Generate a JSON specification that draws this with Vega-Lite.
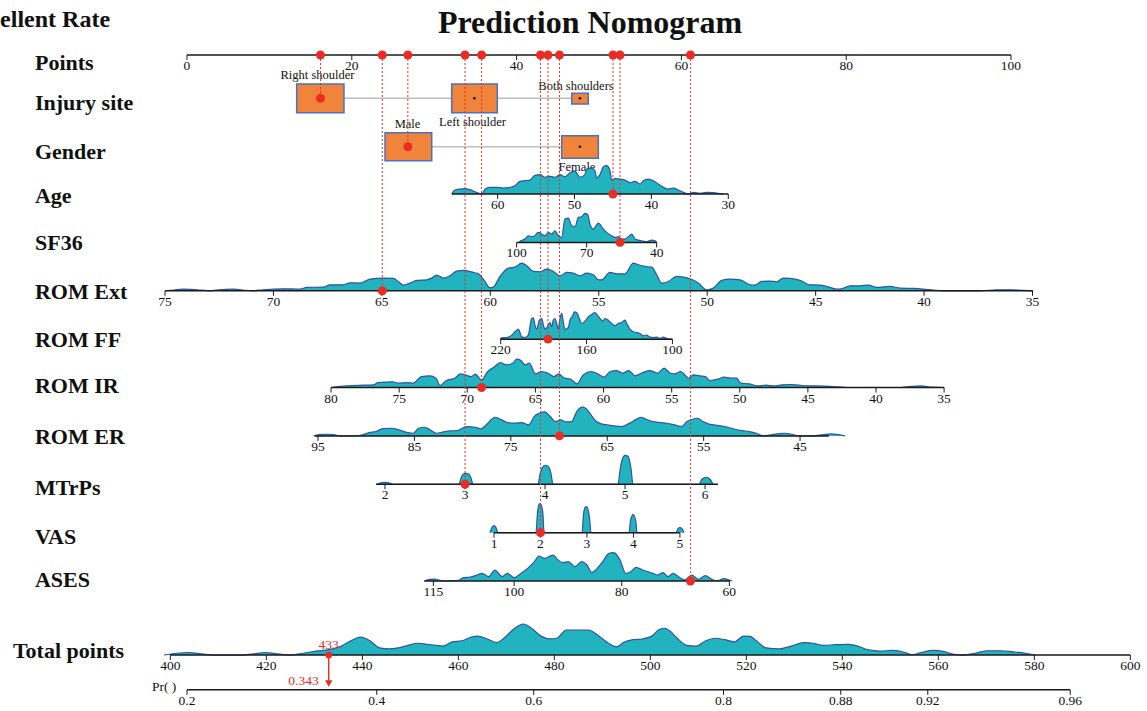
{
  "$schema": "https://vega.github.io/schema/vega-lite/v6.json",
  "width": 1147,
  "height": 711,
  "autosize": {"type": "none"},
  "padding": 0,
  "background": "white",
  "view": {"stroke": null},
  "config": {"font": "Liberation Serif", "text": {"font": "Liberation Serif"}},
  "datasets": {
    "rowlab": [
      {"t": "Points", "x": -18.45, "y": 0.291},
      {"t": "Injury site", "x": -18.45, "y": 1.118},
      {"t": "Gender", "x": -18.45, "y": 2.131},
      {"t": "Age", "x": -18.45, "y": 3.041},
      {"t": "SF36", "x": -18.45, "y": 4.013},
      {"t": "ROM Ext", "x": -18.45, "y": 5.025},
      {"t": "ROM FF", "x": -18.45, "y": 6.018},
      {"t": "ROM IR", "x": -18.45, "y": 6.969},
      {"t": "ROM ER", "x": -18.45, "y": 8.023},
      {"t": "MTrPs", "x": -18.45, "y": 9.077},
      {"t": "VAS", "x": -18.45, "y": 10.09},
      {"t": "ASES", "x": -18.45, "y": 10.979},
      {"t": "Total points", "x": -21.12, "y": 12.446}
    ],
    "axis": [
      {"v": "Points", "x": 0, "x2": 100, "y": 0.126},
      {"v": "Age", "x": 32.16, "x2": 65.69, "y": 3},
      {"v": "SF36", "x": 40.0, "x2": 57.0, "y": 4},
      {"v": "ROM Ext", "x": -2.67, "x2": 102.61, "y": 5},
      {"v": "ROM FF", "x": 38.07, "x2": 58.91, "y": 6},
      {"v": "ROM IR", "x": 17.48, "x2": 91.88, "y": 7},
      {"v": "ROM ER", "x": 15.5, "x2": 77.9, "y": 8},
      {"v": "MTrPs", "x": 22.94, "x2": 64.44, "y": 9},
      {"v": "VAS", "x": 37.26, "x2": 59.82, "y": 10},
      {"v": "ASES", "x": 28.8, "x2": 65.9, "y": 11},
      {"v": "Total points", "x": -2.02, "x2": 114.48, "y": 12.53},
      {"v": "Pr", "x": 0, "x2": 107.19, "y": 13.25}
    ],
    "tick": [
      {"t": "0", "x": 0, "y": 0.126}, {"t": "20", "x": 20, "y": 0.126}, {"t": "40", "x": 40, "y": 0.126},
      {"t": "60", "x": 60, "y": 0.126}, {"t": "80", "x": 80, "y": 0.126}, {"t": "100", "x": 100, "y": 0.126},
      {"t": "60", "x": 37.7, "y": 3}, {"t": "50", "x": 47.03, "y": 3}, {"t": "40", "x": 56.36, "y": 3}, {"t": "30", "x": 65.69, "y": 3},
      {"t": "100", "x": 40.0, "y": 4}, {"t": "70", "x": 48.5, "y": 4}, {"t": "40", "x": 57.0, "y": 4},
      {"t": "75", "x": -2.67, "y": 5}, {"t": "70", "x": 10.49, "y": 5}, {"t": "65", "x": 23.65, "y": 5}, {"t": "60", "x": 36.81, "y": 5},
      {"t": "55", "x": 49.97, "y": 5}, {"t": "50", "x": 63.13, "y": 5}, {"t": "45", "x": 76.29, "y": 5}, {"t": "40", "x": 89.45, "y": 5}, {"t": "35", "x": 102.61, "y": 5},
      {"t": "220", "x": 38.07, "y": 6}, {"t": "160", "x": 48.49, "y": 6}, {"t": "100", "x": 58.91, "y": 6},
      {"t": "80", "x": 17.48, "y": 7}, {"t": "75", "x": 25.75, "y": 7}, {"t": "70", "x": 34.01, "y": 7}, {"t": "65", "x": 42.28, "y": 7},
      {"t": "60", "x": 50.55, "y": 7}, {"t": "55", "x": 58.82, "y": 7}, {"t": "50", "x": 67.08, "y": 7}, {"t": "45", "x": 75.35, "y": 7},
      {"t": "40", "x": 83.62, "y": 7}, {"t": "35", "x": 91.88, "y": 7},
      {"t": "95", "x": 15.9, "y": 8}, {"t": "85", "x": 27.6, "y": 8}, {"t": "75", "x": 39.3, "y": 8}, {"t": "65", "x": 51.0, "y": 8},
      {"t": "55", "x": 62.7, "y": 8}, {"t": "45", "x": 74.4, "y": 8},
      {"t": "2", "x": 24.03, "y": 9}, {"t": "3", "x": 33.74, "y": 9}, {"t": "4", "x": 43.45, "y": 9}, {"t": "5", "x": 53.16, "y": 9}, {"t": "6", "x": 62.87, "y": 9},
      {"t": "1", "x": 37.26, "y": 10}, {"t": "2", "x": 42.9, "y": 10}, {"t": "3", "x": 48.54, "y": 10}, {"t": "4", "x": 54.18, "y": 10}, {"t": "5", "x": 59.82, "y": 10},
      {"t": "115", "x": 29.9, "y": 11}, {"t": "100", "x": 39.7, "y": 11}, {"t": "80", "x": 52.76, "y": 11}, {"t": "60", "x": 65.82, "y": 11},
      {"t": "400", "x": -2.02, "y": 12.53}, {"t": "420", "x": 9.63, "y": 12.53}, {"t": "440", "x": 21.28, "y": 12.53}, {"t": "460", "x": 32.93, "y": 12.53},
      {"t": "480", "x": 44.58, "y": 12.53}, {"t": "500", "x": 56.23, "y": 12.53}, {"t": "520", "x": 67.88, "y": 12.53}, {"t": "540", "x": 79.53, "y": 12.53},
      {"t": "560", "x": 91.18, "y": 12.53}, {"t": "580", "x": 102.83, "y": 12.53}, {"t": "600", "x": 114.48, "y": 12.53},
      {"t": "0.2", "x": 0, "y": 13.25}, {"t": "0.4", "x": 23.03, "y": 13.25}, {"t": "0.6", "x": 42.08, "y": 13.25}, {"t": "0.8", "x": 65.11, "y": 13.25},
      {"t": "0.88", "x": 79.34, "y": 13.25}, {"t": "0.92", "x": 89.9, "y": 13.25}, {"t": "0.96", "x": 107.19, "y": 13.25}
    ],
    "pick": [
      {"v": "Injury site", "x": 16.2, "y": 0.126, "y2": 1.021},
      {"v": "ROM Ext", "x": 23.7, "y": 0.126, "y2": 5},
      {"v": "Gender", "x": 26.8, "y": 0.126, "y2": 2.022},
      {"v": "MTrPs", "x": 33.74, "y": 0.126, "y2": 9},
      {"v": "ROM IR", "x": 35.75, "y": 0.126, "y2": 7},
      {"v": "VAS", "x": 42.9, "y": 0.126, "y2": 10},
      {"v": "ROM FF", "x": 43.81, "y": 0.126, "y2": 6},
      {"v": "ROM ER", "x": 45.2, "y": 0.126, "y2": 8},
      {"v": "Age", "x": 51.7, "y": 0.126, "y2": 3},
      {"v": "SF36", "x": 52.55, "y": 0.126, "y2": 4},
      {"v": "ASES", "x": 61.1, "y": 0.126, "y2": 11}
    ],
    "hit": [
      {"x": 16.2, "y": 1.021}, {"x": 23.7, "y": 5}, {"x": 26.8, "y": 2.022}, {"x": 33.74, "y": 9},
      {"x": 35.75, "y": 7}, {"x": 42.9, "y": 10}, {"x": 43.81, "y": 6}, {"x": 45.2, "y": 8},
      {"x": 51.7, "y": 3}, {"x": 52.55, "y": 4}, {"x": 61.1, "y": 11}
    ],
    "box": [
      {"t": "Right shoulder", "x": 13.31, "x2": 19.05, "y": 0.726, "y2": 1.319},
      {"t": "Left shoulder", "x": 32.12, "x2": 37.66, "y": 0.726, "y2": 1.319},
      {"t": "Both shoulders", "x": 46.69, "x2": 48.7, "y": 0.918, "y2": 1.139},
      {"t": "Male", "x": 24.03, "x2": 29.7, "y": 1.732, "y2": 2.311},
      {"t": "Female", "x": 45.47, "x2": 49.92, "y": 1.794, "y2": 2.262}
    ],
    "conn": [
      {"v": "Injury site", "x": 19.05, "x2": 46.69, "y": 1.021},
      {"v": "Gender", "x": 29.7, "x2": 45.47, "y": 2.022}
    ],
    "mid": [
      {"x": 34.87, "y": 1.021}, {"x": 47.69, "y": 1.021}, {"x": 47.69, "y": 2.022}
    ],
    "boxlab": [
      {"t": "Right shoulder", "x": 15.84, "y": 0.54},
      {"t": "Both shoulders", "x": 47.21, "y": 0.761},
      {"t": "Left shoulder", "x": 34.65, "y": 1.505},
      {"t": "Male", "x": 26.76, "y": 1.552},
      {"t": "Female", "x": 47.33, "y": 2.435}
    ],
    "dens": [
      {"v":"Age","x":32.12,"y":3,"y2":3},{"v":"Age","x":32.52,"y":2.917,"y2":3},{"v":"Age","x":33.13,"y":2.897,"y2":3},{"v":"Age","x":33.74,"y":2.89,"y2":3},{"v":"Age","x":34.34,"y":2.91,"y2":3},{"v":"Age","x":35.16,"y":2.966,"y2":3},{"v":"Age","x":35.76,"y":3,"y2":3},{"v":"Age","x":36.17,"y":2.897,"y2":3},{"v":"Age","x":36.77,"y":2.862,"y2":3},{"v":"Age","x":37.58,"y":2.862,"y2":3},{"v":"Age","x":38.39,"y":2.876,"y2":3},{"v":"Age","x":39.2,"y":2.862,"y2":3},{"v":"Age","x":39.81,"y":2.828,"y2":3},{"v":"Age","x":40.41,"y":2.738,"y2":3},{"v":"Age","x":41.02,"y":2.724,"y2":3},{"v":"Age","x":41.63,"y":2.711,"y2":3},{"v":"Age","x":42.23,"y":2.614,"y2":3},{"v":"Age","x":42.84,"y":2.6,"y2":3},{"v":"Age","x":43.45,"y":2.655,"y2":3},{"v":"Age","x":43.85,"y":2.628,"y2":3},{"v":"Age","x":44.66,"y":2.655,"y2":3},{"v":"Age","x":45.27,"y":2.6,"y2":3},{"v":"Age","x":45.87,"y":2.642,"y2":3},{"v":"Age","x":46.48,"y":2.559,"y2":3},{"v":"Age","x":47.09,"y":2.531,"y2":3},{"v":"Age","x":47.69,"y":2.655,"y2":3},{"v":"Age","x":48.3,"y":2.6,"y2":3},{"v":"Age","x":48.5,"y":2.483,"y2":3},{"v":"Age","x":49.11,"y":2.463,"y2":3},{"v":"Age","x":49.51,"y":2.518,"y2":3},{"v":"Age","x":49.72,"y":2.669,"y2":3},{"v":"Age","x":50.12,"y":2.6,"y2":3},{"v":"Age","x":50.53,"y":2.435,"y2":3},{"v":"Age","x":50.93,"y":2.414,"y2":3},{"v":"Age","x":51.33,"y":2.518,"y2":3},{"v":"Age","x":51.54,"y":2.711,"y2":3},{"v":"Age","x":51.94,"y":2.683,"y2":3},{"v":"Age","x":52.55,"y":2.69,"y2":3},{"v":"Age","x":53.16,"y":2.711,"y2":3},{"v":"Age","x":53.76,"y":2.766,"y2":3},{"v":"Age","x":54.37,"y":2.738,"y2":3},{"v":"Age","x":54.98,"y":2.793,"y2":3},{"v":"Age","x":55.38,"y":2.724,"y2":3},{"v":"Age","x":55.98,"y":2.69,"y2":3},{"v":"Age","x":56.59,"y":2.724,"y2":3},{"v":"Age","x":57.2,"y":2.793,"y2":3},{"v":"Age","x":57.8,"y":2.862,"y2":3},{"v":"Age","x":58.41,"y":2.897,"y2":3},{"v":"Age","x":59.02,"y":2.876,"y2":3},{"v":"Age","x":59.62,"y":2.917,"y2":3},{"v":"Age","x":60.23,"y":2.966,"y2":3},{"v":"Age","x":60.84,"y":3,"y2":3},{"v":"Age","x":61.44,"y":2.966,"y2":3},{"v":"Age","x":62.26,"y":2.986,"y2":3},{"v":"Age","x":63.07,"y":2.966,"y2":3},{"v":"Age","x":63.87,"y":2.972,"y2":3},{"v":"Age","x":64.48,"y":2.986,"y2":3},{"v":"Age","x":65.08,"y":3,"y2":3},
      {"v":"SF36","x":40.29,"y":4,"y2":4},{"v":"SF36","x":40.41,"y":3.979,"y2":4},{"v":"SF36","x":41.02,"y":3.931,"y2":4},{"v":"SF36","x":41.42,"y":3.862,"y2":4},{"v":"SF36","x":42.03,"y":3.883,"y2":4},{"v":"SF36","x":42.63,"y":3.793,"y2":4},{"v":"SF36","x":43.05,"y":3.828,"y2":4},{"v":"SF36","x":43.45,"y":3.862,"y2":4},{"v":"SF36","x":43.85,"y":3.793,"y2":4},{"v":"SF36","x":44.26,"y":3.828,"y2":4},{"v":"SF36","x":44.66,"y":3.759,"y2":4},{"v":"SF36","x":45.06,"y":3.862,"y2":4},{"v":"SF36","x":45.47,"y":3.897,"y2":4},{"v":"SF36","x":45.87,"y":3.518,"y2":4},{"v":"SF36","x":46.27,"y":3.497,"y2":4},{"v":"SF36","x":46.69,"y":3.655,"y2":4},{"v":"SF36","x":47.09,"y":3.676,"y2":4},{"v":"SF36","x":47.49,"y":3.483,"y2":4},{"v":"SF36","x":47.9,"y":3.469,"y2":4},{"v":"SF36","x":48.3,"y":3.401,"y2":4},{"v":"SF36","x":48.63,"y":3.428,"y2":4},{"v":"SF36","x":48.91,"y":3.621,"y2":4},{"v":"SF36","x":49.31,"y":3.724,"y2":4},{"v":"SF36","x":49.92,"y":3.6,"y2":4},{"v":"SF36","x":50.53,"y":3.724,"y2":4},{"v":"SF36","x":50.93,"y":3.793,"y2":4},{"v":"SF36","x":51.54,"y":3.862,"y2":4},{"v":"SF36","x":51.94,"y":3.897,"y2":4},{"v":"SF36","x":52.34,"y":3.883,"y2":4},{"v":"SF36","x":52.75,"y":3.931,"y2":4},{"v":"SF36","x":53.16,"y":3.931,"y2":4},{"v":"SF36","x":53.56,"y":3.883,"y2":4},{"v":"SF36","x":53.97,"y":3.828,"y2":4},{"v":"SF36","x":54.37,"y":3.931,"y2":4},{"v":"SF36","x":54.77,"y":3.952,"y2":4},{"v":"SF36","x":55.18,"y":3.966,"y2":4},{"v":"SF36","x":55.79,"y":3.986,"y2":4},{"v":"SF36","x":56.4,"y":3.952,"y2":4},{"v":"SF36","x":56.8,"y":3.966,"y2":4},{"v":"SF36","x":56.99,"y":4,"y2":4},
      {"v":"ROM Ext","x":-2.67,"y":5,"y2":5},{"v":"ROM Ext","x":-2.06,"y":4.993,"y2":5},{"v":"ROM Ext","x":-0.45,"y":4.966,"y2":5},{"v":"ROM Ext","x":1.18,"y":4.979,"y2":5},{"v":"ROM Ext","x":2.79,"y":5,"y2":5},{"v":"ROM Ext","x":3.6,"y":4.986,"y2":5},{"v":"ROM Ext","x":5.62,"y":4.966,"y2":5},{"v":"ROM Ext","x":7.25,"y":4.993,"y2":5},{"v":"ROM Ext","x":8.05,"y":5,"y2":5},{"v":"ROM Ext","x":9.26,"y":4.979,"y2":5},{"v":"ROM Ext","x":11.69,"y":4.959,"y2":5},{"v":"ROM Ext","x":13.71,"y":4.966,"y2":5},{"v":"ROM Ext","x":14.53,"y":4.931,"y2":5},{"v":"ROM Ext","x":16.54,"y":4.924,"y2":5},{"v":"ROM Ext","x":17.35,"y":4.876,"y2":5},{"v":"ROM Ext","x":18.97,"y":4.876,"y2":5},{"v":"ROM Ext","x":19.78,"y":4.835,"y2":5},{"v":"ROM Ext","x":21.0,"y":4.841,"y2":5},{"v":"ROM Ext","x":22.21,"y":4.759,"y2":5},{"v":"ROM Ext","x":23.82,"y":4.738,"y2":5},{"v":"ROM Ext","x":25.04,"y":4.745,"y2":5},{"v":"ROM Ext","x":25.64,"y":4.807,"y2":5},{"v":"ROM Ext","x":26.25,"y":4.883,"y2":5},{"v":"ROM Ext","x":27.06,"y":4.841,"y2":5},{"v":"ROM Ext","x":27.88,"y":4.786,"y2":5},{"v":"ROM Ext","x":29.09,"y":4.773,"y2":5},{"v":"ROM Ext","x":29.7,"y":4.738,"y2":5},{"v":"ROM Ext","x":30.3,"y":4.676,"y2":5},{"v":"ROM Ext","x":31.11,"y":4.738,"y2":5},{"v":"ROM Ext","x":31.92,"y":4.69,"y2":5},{"v":"ROM Ext","x":32.73,"y":4.593,"y2":5},{"v":"ROM Ext","x":33.53,"y":4.58,"y2":5},{"v":"ROM Ext","x":34.75,"y":4.621,"y2":5},{"v":"ROM Ext","x":35.35,"y":4.649,"y2":5},{"v":"ROM Ext","x":35.96,"y":4.759,"y2":5},{"v":"ROM Ext","x":36.77,"y":4.938,"y2":5},{"v":"ROM Ext","x":37.17,"y":4.924,"y2":5},{"v":"ROM Ext","x":37.99,"y":4.704,"y2":5},{"v":"ROM Ext","x":38.99,"y":4.531,"y2":5},{"v":"ROM Ext","x":39.81,"y":4.511,"y2":5},{"v":"ROM Ext","x":40.62,"y":4.428,"y2":5},{"v":"ROM Ext","x":41.23,"y":4.483,"y2":5},{"v":"ROM Ext","x":42.03,"y":4.6,"y2":5},{"v":"ROM Ext","x":42.84,"y":4.607,"y2":5},{"v":"ROM Ext","x":43.65,"y":4.552,"y2":5},{"v":"ROM Ext","x":44.45,"y":4.6,"y2":5},{"v":"ROM Ext","x":45.27,"y":4.69,"y2":5},{"v":"ROM Ext","x":46.08,"y":4.621,"y2":5},{"v":"ROM Ext","x":46.88,"y":4.635,"y2":5},{"v":"ROM Ext","x":47.69,"y":4.69,"y2":5},{"v":"ROM Ext","x":48.5,"y":4.635,"y2":5},{"v":"ROM Ext","x":49.31,"y":4.669,"y2":5},{"v":"ROM Ext","x":49.92,"y":4.773,"y2":5},{"v":"ROM Ext","x":50.33,"y":4.773,"y2":5},{"v":"ROM Ext","x":51.33,"y":4.621,"y2":5},{"v":"ROM Ext","x":52.15,"y":4.649,"y2":5},{"v":"ROM Ext","x":53.16,"y":4.649,"y2":5},{"v":"ROM Ext","x":54.16,"y":4.428,"y2":5},{"v":"ROM Ext","x":54.77,"y":4.463,"y2":5},{"v":"ROM Ext","x":55.58,"y":4.497,"y2":5},{"v":"ROM Ext","x":56.4,"y":4.511,"y2":5},{"v":"ROM Ext","x":57.0,"y":4.669,"y2":5},{"v":"ROM Ext","x":57.61,"y":4.841,"y2":5},{"v":"ROM Ext","x":58.41,"y":4.807,"y2":5},{"v":"ROM Ext","x":59.43,"y":4.704,"y2":5},{"v":"ROM Ext","x":60.23,"y":4.717,"y2":5},{"v":"ROM Ext","x":61.04,"y":4.752,"y2":5},{"v":"ROM Ext","x":62.05,"y":4.841,"y2":5},{"v":"ROM Ext","x":63.07,"y":4.979,"y2":5},{"v":"ROM Ext","x":63.87,"y":4.945,"y2":5},{"v":"ROM Ext","x":64.89,"y":4.786,"y2":5},{"v":"ROM Ext","x":65.9,"y":4.759,"y2":5},{"v":"ROM Ext","x":67.11,"y":4.773,"y2":5},{"v":"ROM Ext","x":68.33,"y":4.876,"y2":5},{"v":"ROM Ext","x":68.93,"y":4.883,"y2":5},{"v":"ROM Ext","x":69.74,"y":4.807,"y2":5},{"v":"ROM Ext","x":70.75,"y":4.8,"y2":5},{"v":"ROM Ext","x":71.56,"y":4.814,"y2":5},{"v":"ROM Ext","x":72.37,"y":4.738,"y2":5},{"v":"ROM Ext","x":73.18,"y":4.745,"y2":5},{"v":"ROM Ext","x":74.39,"y":4.786,"y2":5},{"v":"ROM Ext","x":75.61,"y":4.876,"y2":5},{"v":"ROM Ext","x":76.82,"y":4.883,"y2":5},{"v":"ROM Ext","x":77.63,"y":4.91,"y2":5},{"v":"ROM Ext","x":78.85,"y":4.966,"y2":5},{"v":"ROM Ext","x":79.45,"y":4.959,"y2":5},{"v":"ROM Ext","x":80.46,"y":4.897,"y2":5},{"v":"ROM Ext","x":81.67,"y":4.897,"y2":5},{"v":"ROM Ext","x":82.68,"y":4.883,"y2":5},{"v":"ROM Ext","x":83.7,"y":4.931,"y2":5},{"v":"ROM Ext","x":85.32,"y":4.91,"y2":5},{"v":"ROM Ext","x":86.53,"y":4.945,"y2":5},{"v":"ROM Ext","x":88.14,"y":4.952,"y2":5},{"v":"ROM Ext","x":89.36,"y":4.966,"y2":5},{"v":"ROM Ext","x":90.57,"y":4.986,"y2":5},{"v":"ROM Ext","x":91.79,"y":5,"y2":5},{"v":"ROM Ext","x":96.24,"y":5,"y2":5},{"v":"ROM Ext","x":98.26,"y":4.979,"y2":5},{"v":"ROM Ext","x":99.88,"y":4.979,"y2":5},{"v":"ROM Ext","x":101.49,"y":4.993,"y2":5},{"v":"ROM Ext","x":102.71,"y":5,"y2":5},
      {"v":"ROM FF","x":37.99,"y":6,"y2":6},{"v":"ROM FF","x":38.19,"y":5.972,"y2":6},{"v":"ROM FF","x":38.8,"y":5.966,"y2":6},{"v":"ROM FF","x":39.41,"y":5.917,"y2":6},{"v":"ROM FF","x":39.81,"y":5.848,"y2":6},{"v":"ROM FF","x":40.21,"y":5.793,"y2":6},{"v":"ROM FF","x":40.62,"y":5.952,"y2":6},{"v":"ROM FF","x":41.02,"y":5.966,"y2":6},{"v":"ROM FF","x":41.42,"y":5.917,"y2":6},{"v":"ROM FF","x":41.83,"y":5.573,"y2":6},{"v":"ROM FF","x":42.03,"y":5.559,"y2":6},{"v":"ROM FF","x":42.23,"y":5.711,"y2":6},{"v":"ROM FF","x":42.44,"y":5.793,"y2":6},{"v":"ROM FF","x":42.76,"y":5.607,"y2":6},{"v":"ROM FF","x":43.05,"y":5.573,"y2":6},{"v":"ROM FF","x":43.25,"y":5.711,"y2":6},{"v":"ROM FF","x":43.45,"y":5.793,"y2":6},{"v":"ROM FF","x":43.65,"y":5.766,"y2":6},{"v":"ROM FF","x":43.85,"y":5.711,"y2":6},{"v":"ROM FF","x":44.05,"y":5.655,"y2":6},{"v":"ROM FF","x":44.26,"y":5.745,"y2":6},{"v":"ROM FF","x":44.45,"y":5.607,"y2":6},{"v":"ROM FF","x":44.66,"y":5.573,"y2":6},{"v":"ROM FF","x":44.87,"y":5.676,"y2":6},{"v":"ROM FF","x":45.06,"y":5.793,"y2":6},{"v":"ROM FF","x":45.27,"y":5.573,"y2":6},{"v":"ROM FF","x":45.47,"y":5.469,"y2":6},{"v":"ROM FF","x":45.67,"y":5.642,"y2":6},{"v":"ROM FF","x":45.87,"y":5.814,"y2":6},{"v":"ROM FF","x":46.08,"y":5.779,"y2":6},{"v":"ROM FF","x":46.27,"y":5.766,"y2":6},{"v":"ROM FF","x":46.48,"y":5.607,"y2":6},{"v":"ROM FF","x":46.81,"y":5.518,"y2":6},{"v":"ROM FF","x":47.0,"y":5.435,"y2":6},{"v":"ROM FF","x":47.29,"y":5.449,"y2":6},{"v":"ROM FF","x":47.61,"y":5.573,"y2":6},{"v":"ROM FF","x":47.9,"y":5.676,"y2":6},{"v":"ROM FF","x":48.3,"y":5.628,"y2":6},{"v":"ROM FF","x":48.7,"y":5.538,"y2":6},{"v":"ROM FF","x":49.11,"y":5.49,"y2":6},{"v":"ROM FF","x":49.51,"y":5.449,"y2":6},{"v":"ROM FF","x":49.8,"y":5.504,"y2":6},{"v":"ROM FF","x":50.12,"y":5.573,"y2":6},{"v":"ROM FF","x":50.45,"y":5.628,"y2":6},{"v":"ROM FF","x":50.73,"y":5.573,"y2":6},{"v":"ROM FF","x":51.13,"y":5.607,"y2":6},{"v":"ROM FF","x":51.54,"y":5.676,"y2":6},{"v":"ROM FF","x":51.94,"y":5.724,"y2":6},{"v":"ROM FF","x":52.34,"y":5.676,"y2":6},{"v":"ROM FF","x":52.75,"y":5.655,"y2":6},{"v":"ROM FF","x":53.16,"y":5.607,"y2":6},{"v":"ROM FF","x":53.36,"y":5.676,"y2":6},{"v":"ROM FF","x":53.76,"y":5.793,"y2":6},{"v":"ROM FF","x":54.16,"y":5.848,"y2":6},{"v":"ROM FF","x":54.58,"y":5.862,"y2":6},{"v":"ROM FF","x":54.98,"y":5.883,"y2":6},{"v":"ROM FF","x":55.38,"y":5.931,"y2":6},{"v":"ROM FF","x":55.79,"y":5.917,"y2":6},{"v":"ROM FF","x":56.19,"y":5.959,"y2":6},{"v":"ROM FF","x":56.59,"y":5.966,"y2":6},{"v":"ROM FF","x":57.0,"y":5.959,"y2":6},{"v":"ROM FF","x":57.4,"y":5.986,"y2":6},{"v":"ROM FF","x":57.8,"y":5.959,"y2":6},{"v":"ROM FF","x":58.22,"y":5.986,"y2":6},{"v":"ROM FF","x":58.82,"y":6,"y2":6},
      {"v":"ROM IR","x":17.48,"y":7,"y2":7},{"v":"ROM IR","x":19.39,"y":6.966,"y2":7},{"v":"ROM IR","x":21.4,"y":6.952,"y2":7},{"v":"ROM IR","x":22.66,"y":6.945,"y2":7},{"v":"ROM IR","x":23.17,"y":6.897,"y2":7},{"v":"ROM IR","x":24.93,"y":6.883,"y2":7},{"v":"ROM IR","x":25.68,"y":6.91,"y2":7},{"v":"ROM IR","x":26.69,"y":6.897,"y2":7},{"v":"ROM IR","x":27.44,"y":6.91,"y2":7},{"v":"ROM IR","x":28.45,"y":6.773,"y2":7},{"v":"ROM IR","x":29.46,"y":6.759,"y2":7},{"v":"ROM IR","x":30.21,"y":6.807,"y2":7},{"v":"ROM IR","x":30.71,"y":6.959,"y2":7},{"v":"ROM IR","x":31.47,"y":6.855,"y2":7},{"v":"ROM IR","x":32.48,"y":6.807,"y2":7},{"v":"ROM IR","x":33.23,"y":6.718,"y2":7},{"v":"ROM IR","x":33.74,"y":6.738,"y2":7},{"v":"ROM IR","x":34.49,"y":6.773,"y2":7},{"v":"ROM IR","x":34.99,"y":6.724,"y2":7},{"v":"ROM IR","x":35.75,"y":6.842,"y2":7},{"v":"ROM IR","x":36.5,"y":6.669,"y2":7},{"v":"ROM IR","x":37.26,"y":6.58,"y2":7},{"v":"ROM IR","x":38.01,"y":6.483,"y2":7},{"v":"ROM IR","x":38.77,"y":6.531,"y2":7},{"v":"ROM IR","x":39.52,"y":6.497,"y2":7},{"v":"ROM IR","x":40.03,"y":6.414,"y2":7},{"v":"ROM IR","x":40.53,"y":6.442,"y2":7},{"v":"ROM IR","x":41.04,"y":6.531,"y2":7},{"v":"ROM IR","x":41.54,"y":6.497,"y2":7},{"v":"ROM IR","x":42.29,"y":6.718,"y2":7},{"v":"ROM IR","x":43.05,"y":6.669,"y2":7},{"v":"ROM IR","x":43.8,"y":6.704,"y2":7},{"v":"ROM IR","x":44.56,"y":6.773,"y2":7},{"v":"ROM IR","x":45.06,"y":6.718,"y2":7},{"v":"ROM IR","x":45.82,"y":6.807,"y2":7},{"v":"ROM IR","x":46.57,"y":6.828,"y2":7},{"v":"ROM IR","x":47.33,"y":6.924,"y2":7},{"v":"ROM IR","x":48.08,"y":6.738,"y2":7},{"v":"ROM IR","x":49.09,"y":6.669,"y2":7},{"v":"ROM IR","x":49.84,"y":6.718,"y2":7},{"v":"ROM IR","x":50.6,"y":6.786,"y2":7},{"v":"ROM IR","x":51.36,"y":6.669,"y2":7},{"v":"ROM IR","x":52.11,"y":6.649,"y2":7},{"v":"ROM IR","x":52.86,"y":6.704,"y2":7},{"v":"ROM IR","x":53.62,"y":6.649,"y2":7},{"v":"ROM IR","x":54.38,"y":6.759,"y2":7},{"v":"ROM IR","x":55.13,"y":6.704,"y2":7},{"v":"ROM IR","x":56.14,"y":6.649,"y2":7},{"v":"ROM IR","x":57.14,"y":6.704,"y2":7},{"v":"ROM IR","x":57.9,"y":6.6,"y2":7},{"v":"ROM IR","x":58.65,"y":6.704,"y2":7},{"v":"ROM IR","x":59.16,"y":6.718,"y2":7},{"v":"ROM IR","x":59.91,"y":6.669,"y2":7},{"v":"ROM IR","x":60.92,"y":6.807,"y2":7},{"v":"ROM IR","x":61.42,"y":6.738,"y2":7},{"v":"ROM IR","x":62.18,"y":6.759,"y2":7},{"v":"ROM IR","x":62.93,"y":6.773,"y2":7},{"v":"ROM IR","x":63.44,"y":6.855,"y2":7},{"v":"ROM IR","x":64.44,"y":6.828,"y2":7},{"v":"ROM IR","x":65.2,"y":6.786,"y2":7},{"v":"ROM IR","x":65.95,"y":6.807,"y2":7},{"v":"ROM IR","x":66.71,"y":6.807,"y2":7},{"v":"ROM IR","x":67.21,"y":6.91,"y2":7},{"v":"ROM IR","x":68.22,"y":6.924,"y2":7},{"v":"ROM IR","x":69.23,"y":6.966,"y2":7},{"v":"ROM IR","x":70.23,"y":6.952,"y2":7},{"v":"ROM IR","x":71.24,"y":6.966,"y2":7},{"v":"ROM IR","x":72.25,"y":6.945,"y2":7},{"v":"ROM IR","x":73.25,"y":6.938,"y2":7},{"v":"ROM IR","x":74.26,"y":6.952,"y2":7},{"v":"ROM IR","x":75.27,"y":6.966,"y2":7},{"v":"ROM IR","x":76.27,"y":6.966,"y2":7},{"v":"ROM IR","x":78.29,"y":6.979,"y2":7},{"v":"ROM IR","x":80.3,"y":7,"y2":7},{"v":"ROM IR","x":86.34,"y":7,"y2":7},{"v":"ROM IR","x":87.6,"y":6.979,"y2":7},{"v":"ROM IR","x":89.11,"y":6.966,"y2":7},{"v":"ROM IR","x":90.37,"y":6.993,"y2":7},{"v":"ROM IR","x":91.88,"y":7,"y2":7},
      {"v":"ROM ER","x":15.38,"y":8,"y2":8},{"v":"ROM ER","x":16.03,"y":7.972,"y2":8},{"v":"ROM ER","x":16.89,"y":7.966,"y2":8},{"v":"ROM ER","x":17.75,"y":7.972,"y2":8},{"v":"ROM ER","x":18.62,"y":8,"y2":8},{"v":"ROM ER","x":20.34,"y":8,"y2":8},{"v":"ROM ER","x":21.42,"y":7.972,"y2":8},{"v":"ROM ER","x":22.07,"y":7.931,"y2":8},{"v":"ROM ER","x":22.93,"y":7.91,"y2":8},{"v":"ROM ER","x":23.79,"y":7.848,"y2":8},{"v":"ROM ER","x":24.87,"y":7.842,"y2":8},{"v":"ROM ER","x":25.73,"y":7.876,"y2":8},{"v":"ROM ER","x":26.81,"y":7.931,"y2":8},{"v":"ROM ER","x":27.46,"y":7.945,"y2":8},{"v":"ROM ER","x":28.11,"y":7.842,"y2":8},{"v":"ROM ER","x":28.75,"y":7.821,"y2":8},{"v":"ROM ER","x":29.4,"y":7.862,"y2":8},{"v":"ROM ER","x":30.26,"y":7.945,"y2":8},{"v":"ROM ER","x":31.13,"y":7.917,"y2":8},{"v":"ROM ER","x":31.99,"y":7.897,"y2":8},{"v":"ROM ER","x":32.85,"y":7.89,"y2":8},{"v":"ROM ER","x":33.93,"y":7.807,"y2":8},{"v":"ROM ER","x":35.01,"y":7.821,"y2":8},{"v":"ROM ER","x":35.66,"y":7.855,"y2":8},{"v":"ROM ER","x":36.3,"y":7.773,"y2":8},{"v":"ROM ER","x":37.38,"y":7.614,"y2":8},{"v":"ROM ER","x":38.03,"y":7.656,"y2":8},{"v":"ROM ER","x":38.89,"y":7.724,"y2":8},{"v":"ROM ER","x":39.75,"y":7.738,"y2":8},{"v":"ROM ER","x":40.62,"y":7.724,"y2":8},{"v":"ROM ER","x":41.48,"y":7.773,"y2":8},{"v":"ROM ER","x":42.13,"y":7.6,"y2":8},{"v":"ROM ER","x":42.77,"y":7.531,"y2":8},{"v":"ROM ER","x":43.42,"y":7.504,"y2":8},{"v":"ROM ER","x":44.07,"y":7.6,"y2":8},{"v":"ROM ER","x":44.71,"y":7.704,"y2":8},{"v":"ROM ER","x":45.36,"y":7.669,"y2":8},{"v":"ROM ER","x":46.01,"y":7.711,"y2":8},{"v":"ROM ER","x":46.66,"y":7.704,"y2":8},{"v":"ROM ER","x":47.3,"y":7.497,"y2":8},{"v":"ROM ER","x":47.95,"y":7.407,"y2":8},{"v":"ROM ER","x":48.38,"y":7.428,"y2":8},{"v":"ROM ER","x":49.03,"y":7.566,"y2":8},{"v":"ROM ER","x":49.68,"y":7.704,"y2":8},{"v":"ROM ER","x":50.32,"y":7.752,"y2":8},{"v":"ROM ER","x":50.97,"y":7.773,"y2":8},{"v":"ROM ER","x":51.83,"y":7.793,"y2":8},{"v":"ROM ER","x":52.7,"y":7.807,"y2":8},{"v":"ROM ER","x":53.56,"y":7.752,"y2":8},{"v":"ROM ER","x":54.42,"y":7.669,"y2":8},{"v":"ROM ER","x":55.07,"y":7.614,"y2":8},{"v":"ROM ER","x":55.72,"y":7.656,"y2":8},{"v":"ROM ER","x":56.58,"y":7.704,"y2":8},{"v":"ROM ER","x":57.44,"y":7.724,"y2":8},{"v":"ROM ER","x":58.3,"y":7.738,"y2":8},{"v":"ROM ER","x":59.17,"y":7.773,"y2":8},{"v":"ROM ER","x":60.03,"y":7.807,"y2":8},{"v":"ROM ER","x":60.68,"y":7.704,"y2":8},{"v":"ROM ER","x":61.32,"y":7.656,"y2":8},{"v":"ROM ER","x":61.97,"y":7.635,"y2":8},{"v":"ROM ER","x":62.62,"y":7.704,"y2":8},{"v":"ROM ER","x":63.27,"y":7.752,"y2":8},{"v":"ROM ER","x":63.91,"y":7.773,"y2":8},{"v":"ROM ER","x":64.78,"y":7.793,"y2":8},{"v":"ROM ER","x":65.64,"y":7.821,"y2":8},{"v":"ROM ER","x":66.5,"y":7.862,"y2":8},{"v":"ROM ER","x":67.36,"y":7.89,"y2":8},{"v":"ROM ER","x":68.23,"y":7.91,"y2":8},{"v":"ROM ER","x":69.09,"y":7.945,"y2":8},{"v":"ROM ER","x":69.95,"y":8,"y2":8},{"v":"ROM ER","x":70.81,"y":7.979,"y2":8},{"v":"ROM ER","x":71.68,"y":7.959,"y2":8},{"v":"ROM ER","x":72.54,"y":7.945,"y2":8},{"v":"ROM ER","x":73.4,"y":7.966,"y2":8},{"v":"ROM ER","x":74.26,"y":8,"y2":8},{"v":"ROM ER","x":75.99,"y":8,"y2":8},{"v":"ROM ER","x":77.28,"y":7.972,"y2":8},{"v":"ROM ER","x":78.15,"y":7.959,"y2":8},{"v":"ROM ER","x":79.01,"y":7.972,"y2":8},{"v":"ROM ER","x":79.87,"y":8,"y2":8},
      {"v":"MTrPs","x":23.06,"y":9,"y2":9},{"v":"MTrPs","x":23.54,"y":8.969,"y2":9},{"v":"MTrPs","x":24.03,"y":8.959,"y2":9},{"v":"MTrPs","x":24.51,"y":8.969,"y2":9},{"v":"MTrPs","x":25.0,"y":9,"y2":9},{"v":"MTrPs","x":33.01,"y":9,"y2":9},{"v":"MTrPs","x":33.25,"y":8.876,"y2":9},{"v":"MTrPs","x":33.5,"y":8.793,"y2":9},{"v":"MTrPs","x":33.86,"y":8.773,"y2":9},{"v":"MTrPs","x":34.22,"y":8.793,"y2":9},{"v":"MTrPs","x":34.47,"y":8.876,"y2":9},{"v":"MTrPs","x":34.71,"y":9,"y2":9},{"v":"MTrPs","x":42.6,"y":9,"y2":9},{"v":"MTrPs","x":42.84,"y":8.793,"y2":9},{"v":"MTrPs","x":43.08,"y":8.669,"y2":9},{"v":"MTrPs","x":43.45,"y":8.607,"y2":9},{"v":"MTrPs","x":43.81,"y":8.628,"y2":9},{"v":"MTrPs","x":44.17,"y":8.773,"y2":9},{"v":"MTrPs","x":44.42,"y":9,"y2":9},{"v":"MTrPs","x":52.31,"y":9,"y2":9},{"v":"MTrPs","x":52.55,"y":8.711,"y2":9},{"v":"MTrPs","x":52.79,"y":8.504,"y2":9},{"v":"MTrPs","x":53.16,"y":8.401,"y2":9},{"v":"MTrPs","x":53.52,"y":8.421,"y2":9},{"v":"MTrPs","x":53.88,"y":8.669,"y2":9},{"v":"MTrPs","x":54.13,"y":9,"y2":9},{"v":"MTrPs","x":62.14,"y":9,"y2":9},{"v":"MTrPs","x":62.5,"y":8.897,"y2":9},{"v":"MTrPs","x":62.99,"y":8.855,"y2":9},{"v":"MTrPs","x":63.47,"y":8.897,"y2":9},{"v":"MTrPs","x":63.83,"y":9,"y2":9},
      {"v":"VAS","x":36.77,"y":10,"y2":10},{"v":"VAS","x":37.01,"y":9.897,"y2":10},{"v":"VAS","x":37.26,"y":9.855,"y2":10},{"v":"VAS","x":37.5,"y":9.897,"y2":10},{"v":"VAS","x":37.74,"y":10,"y2":10},{"v":"VAS","x":42.35,"y":10,"y2":10},{"v":"VAS","x":42.54,"y":9.587,"y2":10},{"v":"VAS","x":42.72,"y":9.421,"y2":10},{"v":"VAS","x":42.84,"y":9.401,"y2":10},{"v":"VAS","x":43.02,"y":9.442,"y2":10},{"v":"VAS","x":43.2,"y":9.628,"y2":10},{"v":"VAS","x":43.33,"y":10,"y2":10},{"v":"VAS","x":47.94,"y":10,"y2":10},{"v":"VAS","x":48.12,"y":9.628,"y2":10},{"v":"VAS","x":48.3,"y":9.483,"y2":10},{"v":"VAS","x":48.48,"y":9.463,"y2":10},{"v":"VAS","x":48.67,"y":9.525,"y2":10},{"v":"VAS","x":48.85,"y":9.69,"y2":10},{"v":"VAS","x":49.03,"y":10,"y2":10},{"v":"VAS","x":53.64,"y":10,"y2":10},{"v":"VAS","x":53.82,"y":9.752,"y2":10},{"v":"VAS","x":54.0,"y":9.649,"y2":10},{"v":"VAS","x":54.13,"y":9.628,"y2":10},{"v":"VAS","x":54.31,"y":9.669,"y2":10},{"v":"VAS","x":54.49,"y":9.793,"y2":10},{"v":"VAS","x":54.61,"y":10,"y2":10},{"v":"VAS","x":59.34,"y":10,"y2":10},{"v":"VAS","x":59.59,"y":9.917,"y2":10},{"v":"VAS","x":59.83,"y":9.897,"y2":10},{"v":"VAS","x":60.07,"y":9.917,"y2":10},{"v":"VAS","x":60.32,"y":10,"y2":10},
      {"v":"ASES","x":28.82,"y":11,"y2":11},{"v":"ASES","x":29.44,"y":10.966,"y2":11},{"v":"ASES","x":30.06,"y":10.959,"y2":11},{"v":"ASES","x":30.67,"y":10.986,"y2":11},{"v":"ASES","x":31.29,"y":11,"y2":11},{"v":"ASES","x":32.11,"y":10.993,"y2":11},{"v":"ASES","x":32.93,"y":10.986,"y2":11},{"v":"ASES","x":33.54,"y":10.931,"y2":11},{"v":"ASES","x":34.37,"y":10.917,"y2":11},{"v":"ASES","x":35.19,"y":10.876,"y2":11},{"v":"ASES","x":35.8,"y":10.842,"y2":11},{"v":"ASES","x":36.62,"y":10.91,"y2":11},{"v":"ASES","x":37.36,"y":10.773,"y2":11},{"v":"ASES","x":38.27,"y":10.91,"y2":11},{"v":"ASES","x":38.88,"y":10.842,"y2":11},{"v":"ASES","x":39.7,"y":10.931,"y2":11},{"v":"ASES","x":40.52,"y":10.842,"y2":11},{"v":"ASES","x":41.34,"y":10.738,"y2":11},{"v":"ASES","x":42.17,"y":10.6,"y2":11},{"v":"ASES","x":42.7,"y":10.483,"y2":11},{"v":"ASES","x":43.4,"y":10.531,"y2":11},{"v":"ASES","x":44.42,"y":10.463,"y2":11},{"v":"ASES","x":45.04,"y":10.566,"y2":11},{"v":"ASES","x":45.65,"y":10.621,"y2":11},{"v":"ASES","x":46.27,"y":10.6,"y2":11},{"v":"ASES","x":47.09,"y":10.704,"y2":11},{"v":"ASES","x":47.91,"y":10.6,"y2":11},{"v":"ASES","x":48.53,"y":10.669,"y2":11},{"v":"ASES","x":49.14,"y":10.821,"y2":11},{"v":"ASES","x":49.96,"y":10.704,"y2":11},{"v":"ASES","x":50.58,"y":10.566,"y2":11},{"v":"ASES","x":51.2,"y":10.428,"y2":11},{"v":"ASES","x":51.81,"y":10.414,"y2":11},{"v":"ASES","x":52.55,"y":10.566,"y2":11},{"v":"ASES","x":53.25,"y":10.842,"y2":11},{"v":"ASES","x":53.86,"y":10.807,"y2":11},{"v":"ASES","x":54.48,"y":10.718,"y2":11},{"v":"ASES","x":55.3,"y":10.773,"y2":11},{"v":"ASES","x":55.92,"y":10.807,"y2":11},{"v":"ASES","x":56.53,"y":10.842,"y2":11},{"v":"ASES","x":57.15,"y":10.876,"y2":11},{"v":"ASES","x":57.76,"y":10.828,"y2":11},{"v":"ASES","x":58.38,"y":10.91,"y2":11},{"v":"ASES","x":58.99,"y":10.842,"y2":11},{"v":"ASES","x":59.82,"y":10.931,"y2":11},{"v":"ASES","x":60.43,"y":10.979,"y2":11},{"v":"ASES","x":61.25,"y":10.876,"y2":11},{"v":"ASES","x":62.07,"y":10.966,"y2":11},{"v":"ASES","x":62.9,"y":10.89,"y2":11},{"v":"ASES","x":63.72,"y":10.966,"y2":11},{"v":"ASES","x":64.33,"y":10.993,"y2":11},{"v":"ASES","x":65.15,"y":10.952,"y2":11},{"v":"ASES","x":65.56,"y":10.966,"y2":11},{"v":"ASES","x":66.18,"y":11,"y2":11},
      {"v":"Total","x":-2.79,"y":12.53,"y2":12.53},{"v":"Total","x":-1.25,"y":12.493,"y2":12.53},{"v":"Total","x":0.29,"y":12.478,"y2":12.53},{"v":"Total","x":1.82,"y":12.508,"y2":12.53},{"v":"Total","x":3.36,"y":12.53,"y2":12.53},{"v":"Total","x":6.44,"y":12.53,"y2":12.53},{"v":"Total","x":7.98,"y":12.508,"y2":12.53},{"v":"Total","x":9.51,"y":12.478,"y2":12.53},{"v":"Total","x":11.05,"y":12.508,"y2":12.53},{"v":"Total","x":12.59,"y":12.53,"y2":12.53},{"v":"Total","x":14.13,"y":12.493,"y2":12.53},{"v":"Total","x":15.66,"y":12.449,"y2":12.53},{"v":"Total","x":17.2,"y":12.419,"y2":12.53},{"v":"Total","x":18.74,"y":12.345,"y2":12.53},{"v":"Total","x":19.89,"y":12.235,"y2":12.53},{"v":"Total","x":21.05,"y":12.161,"y2":12.53},{"v":"Total","x":22.2,"y":12.235,"y2":12.53},{"v":"Total","x":23.35,"y":12.382,"y2":12.53},{"v":"Total","x":24.51,"y":12.404,"y2":12.53},{"v":"Total","x":25.66,"y":12.382,"y2":12.53},{"v":"Total","x":26.81,"y":12.331,"y2":12.53},{"v":"Total","x":27.97,"y":12.286,"y2":12.53},{"v":"Total","x":29.12,"y":12.308,"y2":12.53},{"v":"Total","x":30.27,"y":12.331,"y2":12.53},{"v":"Total","x":31.04,"y":12.345,"y2":12.53},{"v":"Total","x":32.2,"y":12.257,"y2":12.53},{"v":"Total","x":33.35,"y":12.235,"y2":12.53},{"v":"Total","x":34.5,"y":12.161,"y2":12.53},{"v":"Total","x":35.27,"y":12.139,"y2":12.53},{"v":"Total","x":36.43,"y":12.198,"y2":12.53},{"v":"Total","x":37.58,"y":12.272,"y2":12.53},{"v":"Total","x":38.73,"y":12.139,"y2":12.53},{"v":"Total","x":39.89,"y":11.962,"y2":12.53},{"v":"Total","x":40.81,"y":11.888,"y2":12.53},{"v":"Total","x":41.81,"y":11.976,"y2":12.53},{"v":"Total","x":42.96,"y":12.139,"y2":12.53},{"v":"Total","x":44.11,"y":12.198,"y2":12.53},{"v":"Total","x":44.88,"y":12.183,"y2":12.53},{"v":"Total","x":46.04,"y":12.013,"y2":12.53},{"v":"Total","x":47.19,"y":12.013,"y2":12.53},{"v":"Total","x":48.73,"y":12.013,"y2":12.53},{"v":"Total","x":49.88,"y":12.124,"y2":12.53},{"v":"Total","x":51.03,"y":12.272,"y2":12.53},{"v":"Total","x":52.19,"y":12.36,"y2":12.53},{"v":"Total","x":52.96,"y":12.272,"y2":12.53},{"v":"Total","x":54.11,"y":12.213,"y2":12.53},{"v":"Total","x":55.26,"y":12.198,"y2":12.53},{"v":"Total","x":56.42,"y":12.139,"y2":12.53},{"v":"Total","x":57.19,"y":12.013,"y2":12.53},{"v":"Total","x":57.95,"y":11.976,"y2":12.53},{"v":"Total","x":58.72,"y":12.05,"y2":12.53},{"v":"Total","x":59.49,"y":12.183,"y2":12.53},{"v":"Total","x":60.65,"y":12.331,"y2":12.53},{"v":"Total","x":61.8,"y":12.345,"y2":12.53},{"v":"Total","x":62.95,"y":12.235,"y2":12.53},{"v":"Total","x":64.11,"y":12.183,"y2":12.53},{"v":"Total","x":65.26,"y":12.213,"y2":12.53},{"v":"Total","x":66.41,"y":12.257,"y2":12.53},{"v":"Total","x":67.57,"y":12.139,"y2":12.53},{"v":"Total","x":68.34,"y":12.146,"y2":12.53},{"v":"Total","x":69.1,"y":12.235,"y2":12.53},{"v":"Total","x":70.26,"y":12.382,"y2":12.53},{"v":"Total","x":71.79,"y":12.404,"y2":12.53},{"v":"Total","x":73.33,"y":12.345,"y2":12.53},{"v":"Total","x":74.87,"y":12.272,"y2":12.53},{"v":"Total","x":76.02,"y":12.286,"y2":12.53},{"v":"Total","x":77.18,"y":12.331,"y2":12.53},{"v":"Total","x":78.71,"y":12.316,"y2":12.53},{"v":"Total","x":80.25,"y":12.308,"y2":12.53},{"v":"Total","x":81.41,"y":12.345,"y2":12.53},{"v":"Total","x":82.56,"y":12.419,"y2":12.53},{"v":"Total","x":84.1,"y":12.449,"y2":12.53},{"v":"Total","x":85.63,"y":12.434,"y2":12.53},{"v":"Total","x":87.17,"y":12.478,"y2":12.53},{"v":"Total","x":87.94,"y":12.523,"y2":12.53},{"v":"Total","x":89.09,"y":12.478,"y2":12.53},{"v":"Total","x":90.63,"y":12.434,"y2":12.53},{"v":"Total","x":91.79,"y":12.456,"y2":12.53},{"v":"Total","x":92.94,"y":12.508,"y2":12.53},{"v":"Total","x":94.09,"y":12.53,"y2":12.53},{"v":"Total","x":95.63,"y":12.493,"y2":12.53},{"v":"Total","x":97.17,"y":12.441,"y2":12.53},{"v":"Total","x":98.71,"y":12.441,"y2":12.53},{"v":"Total","x":100.24,"y":12.463,"y2":12.53},{"v":"Total","x":101.78,"y":12.493,"y2":12.53},{"v":"Total","x":102.94,"y":12.53,"y2":12.53}
    ],
    "total": [
      {"t": "433", "p": "0.343", "x": 17.2, "y": 12.53, "y2": 13.06, "tip": 13.12}
    ],
    "heading": [
      {"t": "Prediction Nomogram", "x": 48.91, "y": -0.54}
    ],
    "corner": [
      {"t": "Excellent Rate", "x": -9.34, "y": -0.597}
    ],
    "prlab": [
      {"t": "Pr( )", "x": -4.25, "y": 13.2}
    ]
  },
  "encoding": {
    "x": {"field": "x", "type": "quantitative", "scale": {"domain": [-22.694, 116.505], "nice": false, "zero": false}, "axis": null},
    "y": {"field": "y", "type": "quantitative", "scale": {"domain": [-1.011, 13.687], "reverse": true, "nice": false, "zero": false}, "axis": null}
  },
  "layer": [
    {
      "data": {"name": "conn"},
      "mark": {"type": "rule", "color": "#BEBEBE", "strokeWidth": 1.5},
      "encoding": {"x2": {"field": "x2"}}
    },
    {
      "data": {"name": "box"},
      "mark": {"type": "rect", "fill": "#F0843A", "stroke": "#4A72C0", "strokeWidth": 1.5},
      "encoding": {"x2": {"field": "x2"}, "y2": {"field": "y2"}}
    },
    {
      "data": {"name": "boxlab"},
      "mark": {"type": "text", "fontSize": 12.5, "align": "center", "baseline": "middle", "color": "#111111"},
      "encoding": {"text": {"field": "t"}}
    },
    {
      "data": {"name": "dens"},
      "mark": {"type": "area", "orient": "vertical", "interpolate": "monotone", "color": "#22B4BE", "fillOpacity": 1, "line": {"color": "#2C55A2", "strokeWidth": 1.2}},
      "encoding": {"y2": {"field": "y2"}, "detail": {"field": "v"}}
    },
    {
      "data": {"name": "axis"},
      "mark": {"type": "rule", "color": "#1A1A1A", "strokeWidth": 1.5},
      "encoding": {"x2": {"field": "x2"}}
    },
    {
      "data": {"name": "tick"},
      "mark": {"type": "rule", "color": "#1A1A1A", "strokeWidth": 1, "y2Offset": 5},
      "encoding": {"y2": {"field": "y"}}
    },
    {
      "data": {"name": "tick"},
      "mark": {"type": "text", "fontSize": 13.5, "align": "center", "baseline": "top", "dy": 4, "color": "#111111"},
      "encoding": {"text": {"field": "t"}}
    },
    {
      "data": {"name": "pick"},
      "mark": {"type": "rule", "color": "#EE2A24", "strokeWidth": 1, "strokeDash": [2, 2]},
      "encoding": {"y2": {"field": "y2"}}
    },
    {
      "data": {"name": "pick"},
      "mark": {"type": "point", "shape": "circle", "filled": true, "color": "#EE2A24", "size": 80, "opacity": 1}
    },
    {
      "data": {"name": "hit"},
      "mark": {"type": "point", "shape": "circle", "filled": true, "color": "#EE2A24", "size": 80, "opacity": 1}
    },
    {
      "data": {"name": "mid"},
      "mark": {"type": "point", "shape": "circle", "filled": true, "color": "#111111", "size": 7, "opacity": 1}
    },
    {
      "data": {"name": "total"},
      "mark": {"type": "rule", "color": "#EE2A24", "strokeWidth": 1.4},
      "encoding": {"y2": {"field": "y2"}}
    },
    {
      "data": {"name": "total"},
      "mark": {"type": "point", "shape": "circle", "filled": true, "color": "#EE2A24", "size": 45, "opacity": 1}
    },
    {
      "data": {"name": "total"},
      "mark": {"type": "point", "shape": "triangle-down", "filled": true, "color": "#EE2A24", "size": 55, "opacity": 1},
      "encoding": {"y": {"field": "tip", "type": "quantitative"}}
    },
    {
      "data": {"name": "total"},
      "mark": {"type": "text", "fontSize": 13.5, "align": "center", "baseline": "bottom", "dy": -3, "color": "#EE2A24"},
      "encoding": {"text": {"field": "t"}}
    },
    {
      "data": {"name": "total"},
      "mark": {"type": "text", "fontSize": 13.5, "align": "right", "baseline": "middle", "dx": -10, "color": "#EE2A24"},
      "encoding": {"y": {"field": "y2", "type": "quantitative"}, "text": {"field": "p"}}
    },
    {
      "data": {"name": "prlab"},
      "mark": {"type": "text", "fontSize": 13.5, "align": "left", "baseline": "middle", "color": "#111111"},
      "encoding": {"text": {"field": "t"}}
    },
    {
      "data": {"name": "rowlab"},
      "mark": {"type": "text", "fontSize": 22, "fontWeight": "bold", "align": "left", "baseline": "middle", "color": "#111111"},
      "encoding": {"text": {"field": "t"}}
    },
    {
      "data": {"name": "heading"},
      "mark": {"type": "text", "fontSize": 32, "fontWeight": "bold", "align": "center", "baseline": "middle", "color": "#111111"},
      "encoding": {"text": {"field": "t"}}
    },
    {
      "data": {"name": "corner"},
      "mark": {"type": "text", "fontSize": 24, "fontWeight": "bold", "align": "right", "baseline": "middle", "color": "#111111"},
      "encoding": {"text": {"field": "t"}}
    }
  ]
}
